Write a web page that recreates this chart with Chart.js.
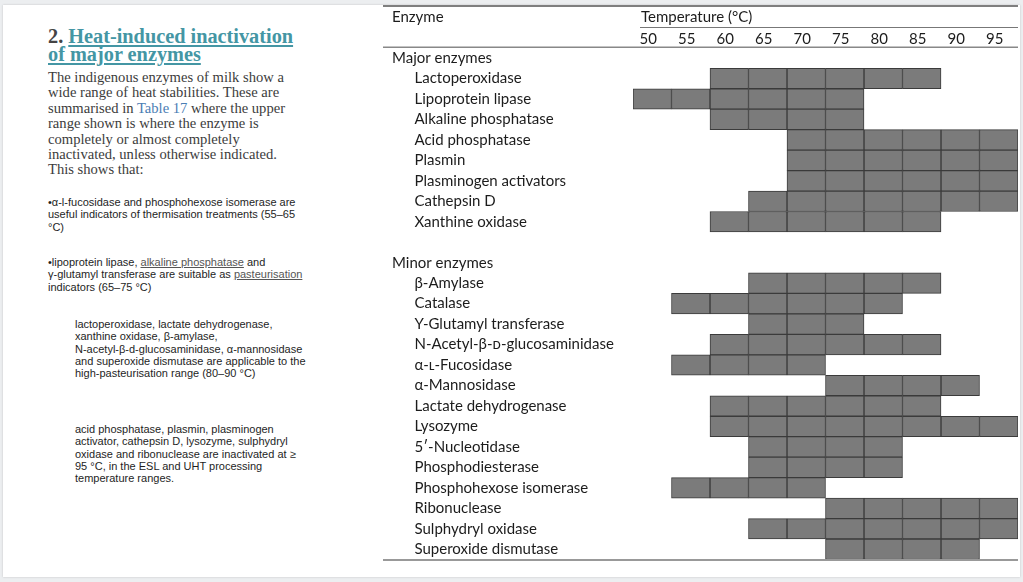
<!DOCTYPE html>
<html>
<head>
<meta charset="utf-8">
<script src="https://cdn.jsdelivr.net/npm/chart.js@4.4.1/dist/chart.umd.min.js"></script>
<style>
  html, body { margin: 0; padding: 0; }
  body { width: 1023px; height: 582px; background: #eceef0; position: relative; overflow: hidden; }
  .page { position: absolute; left: 3px; top: 5px; width: 1017px; height: 572px; background: #fff; box-shadow: 0 0 2px rgba(0,0,0,0.18); }
  .txt { position: absolute; white-space: nowrap; }
  h2 { position: absolute; left: 48px; top: 27px; margin: 0; font: bold 20.3px "Liberation Serif", serif; line-height: 18px; color: #444; }
  h2 a { color: #4496a4; text-decoration: underline; }
  .para { left: 48px; top: 70px; font: 14.6px "Liberation Serif", serif; line-height: 15.4px; color: #3c3c3c; }
  .para span { color: #4a7db4; }
  .bul { font: 11px "Liberation Sans", Arial, sans-serif; line-height: 12.3px; color: #1e1e1e; }
  .bul u { color: #555; }
  #wrap { position: absolute; left: 383px; top: 0; width: 640px; height: 582px; }
</style>
</head>
<body>
<div class="page"></div>
<h2>2. <a>Heat-induced inactivation<br>of major enzymes</a></h2>
<div class="txt para">The indigenous enzymes of milk show a<br>wide range of heat stabilities. These are<br>summarised in <span>Table 17</span> where the upper<br>range shown is where the enzyme is<br>completely or almost completely<br>inactivated, unless otherwise indicated.<br>This shows that:</div>
<div class="txt bul" style="left:48px;top:196px">•α-l-fucosidase and phosphohexose isomerase are<br>useful indicators of thermisation treatments (55–65<br>°C)</div>
<div class="txt bul" style="left:48px;top:256px">•lipoprotein lipase, <u>alkaline phosphatase</u> and<br>γ-glutamyl transferase are suitable as <u>pasteurisation</u><br>indicators (65–75 °C)</div>
<div class="txt bul" style="left:75px;top:318px">lactoperoxidase, lactate dehydrogenase,<br>xanthine oxidase, β-amylase,<br>N-acetyl-β-d-glucosaminidase, α-mannosidase<br>and superoxide dismutase are applicable to the<br>high-pasteurisation range (80–90 °C)</div>
<div class="txt bul" style="left:75px;top:423px">acid phosphatase, plasmin, plasminogen<br>activator, cathepsin D, lysozyme, sulphydryl<br>oxidase and ribonuclease are inactivated at ≥<br>95 °C, in the ESL and UHT processing<br>temperature ranges.</div>
<div id="wrap"><canvas id="chart"></canvas></div>
<script>
const enzymes = [
  "Major enzymes", "Lactoperoxidase", "Lipoprotein lipase", "Alkaline phosphatase",
  "Acid phosphatase", "Plasmin", "Plasminogen activators", "Cathepsin D", "Xanthine oxidase",
  "",
  "Minor enzymes", "β-Amylase", "Catalase", "Y-Glutamyl transferase", "N-Acetyl-β-ᴅ-glucosaminidase",
  "α-ʟ-Fucosidase", "α-Mannosidase", "Lactate dehydrogenase", "Lysozyme", "5′-Nucleotidase",
  "Phosphodiesterase", "Phosphohexose isomerase", "Ribonuclease", "Sulphydryl oxidase", "Superoxide dismutase"
];
const groupRows = ["Major enzymes", "Minor enzymes", ""];

// first and last 5 °C column shaded for each row (null = no bar)
const rangeFrom = [null, 60, 50, 60, 70, 70, 70, 65, 60, null, null, 65, 55, 65, 60, 55, 75, 60, 60, 65, 65, 55, 75, 65, 75];
const rangeTo   = [null, 85, 75, 75, 95, 95, 95, 95, 85, null, null, 85, 80, 75, 85, 70, 90, 85, 95, 80, 80, 70, 95, 95, 90];

const tempTicks = [50, 55, 60, 65, 70, 75, 80, 85, 90, 95];

const datasets = tempTicks.map(t => ({
  label: t + " °C",
  data: enzymes.map((_, i) =>
    rangeFrom[i] != null && t >= rangeFrom[i] && t <= rangeTo[i] ? [t - 2.5, t + 2.5] : null),
  backgroundColor: "#7b7b7b",
  borderColor: "#3b3b3b",
  borderWidth: 1,
  borderSkipped: false,
  barPercentage: 1,
  categoryPercentage: 1,
  grouped: false
}));

// table rules and column headers
const tableDeco = {
  id: "tableDeco",
  afterDraw(chart) {
    const c = chart.ctx;
    const a = chart.chartArea;
    c.save();
    c.strokeStyle = "#555";
    c.lineWidth = 1.5;
    c.beginPath(); c.moveTo(0, 6); c.lineTo(a.right, 6); c.stroke();
    c.strokeStyle = "#888";
    c.beginPath(); c.moveTo(0, a.top - 0.5); c.lineTo(a.right, a.top - 0.5); c.stroke();
    c.lineWidth = 2;
    c.strokeStyle = "#999";
    c.beginPath(); c.moveTo(0, a.bottom + 0.5); c.lineTo(a.right, a.bottom + 0.5); c.stroke();
    c.lineWidth = 1;
    c.strokeStyle = "#777";
    c.beginPath(); c.moveTo(a.left + 7, 27.5); c.lineTo(a.right, 27.5); c.stroke();
    c.fillStyle = "#1c1c1c";
    c.font = "15px Lato";
    c.textBaseline = "middle";
    c.fillText("Enzyme", 9, 17);
    c.fillText("Temperature (°C)", a.left + 8, 17);
    c.restore();
  }
};

new Chart(document.getElementById("chart"), {
  type: "bar",
  data: { labels: enzymes, datasets: datasets },
  options: {
    indexAxis: "y",
    responsive: true,
    maintainAspectRatio: false,
    animation: false,
    layout: { padding: { left: 9, right: 5, top: 0, bottom: 22.5 } },
    plugins: { legend: { display: false }, tooltip: { enabled: false } },
    scales: {
      x: {
        type: "linear",
        position: "top",
        min: 47.5,
        max: 97.5,
        afterBuildTicks: s => { s.ticks = tempTicks.map(v => ({ value: v })); },
        afterFit: s => { s.height = 47.8; },
        grid: { display: false, drawTicks: false },
        border: { display: false },
        ticks: { color: "#1c1c1c", font: { family: "Lato", size: 15 }, padding: 0, labelOffset: -4 }
      },
      y: {
        type: "category",
        afterFit: s => { s.width = 241; },
        grid: { display: false, drawTicks: false },
        border: { display: false },
        ticks: {
          crossAlign: "far",
          padding: 0,
          autoSkip: false,
          color: "#1c1c1c",
          font: { family: "Lato", size: 15 },
          callback: function (v, i) {
            const name = enzymes[i];
            return groupRows.includes(name) ? name : "\u2002\u2002\u2002" + name;
          }
        }
      }
    }
  },
  plugins: [tableDeco]
});
</script>
</body>
</html>
